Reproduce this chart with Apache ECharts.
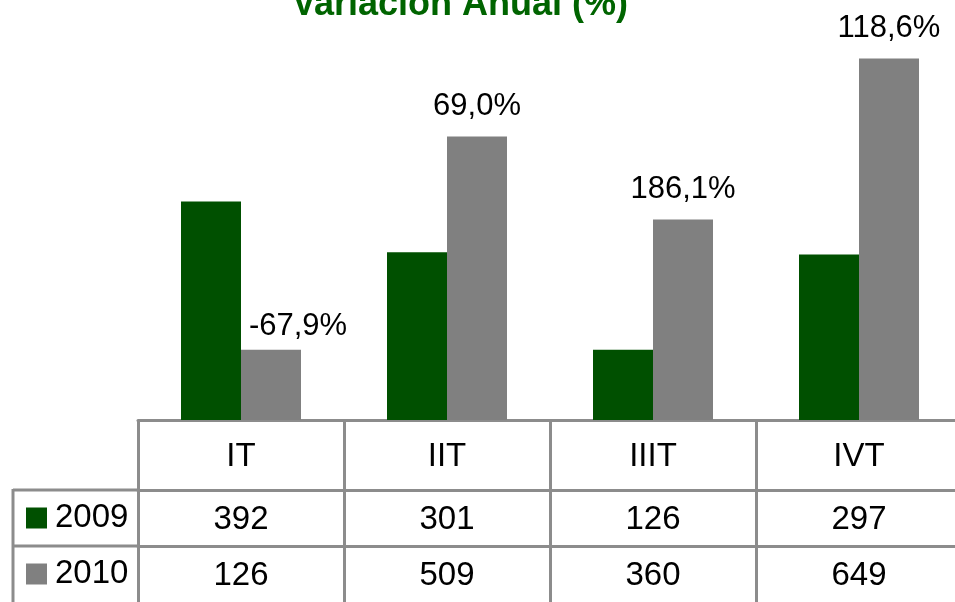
<!DOCTYPE html>
<html>
<head>
<meta charset="utf-8">
<script src="https://cdn.jsdelivr.net/npm/echarts@6/dist/echarts.min.js"></script>
<style>
  html, body { margin: 0; padding: 0; background: #fff; }
  #chart { width: 955px; height: 602px; }
</style>
</head>
<body>
<div id="chart"></div>
<script>
// quarters and yearly values
const quarters = ['IT', 'IIT', 'IIIT', 'IVT'];
const years = ['2009', '2010'];
const values2009 = [392, 301, 126, 297];
const values2010 = [126, 509, 360, 649];
const changeLabels = ['-67,9%', '69,0%', '186,1%', '118,6%'];

const GREEN = '#005000';
const GRAY = '#808080';
const LINE = '#8c8c8c';
const FONT = '"Liberation Sans", Arial, sans-serif';

const chart = echarts.init(document.getElementById('chart'));

// table row axes, one per year, hanging under the bars
function rowAxis(offset, vals) {
    return {
        type: 'category',
        data: quarters,
        gridIndex: 0,
        position: 'bottom',
        offset: offset,
        axisLine: { show: true, lineStyle: { color: LINE, width: 3 } },
        axisTick: { show: false },
        axisLabel: {
            formatter: (v, i) => String(vals[i]),
            fontSize: 33,
            fontFamily: FONT,
            color: '#000',
            margin: 30,
            verticalAlign: 'middle'
        }
    };
}

const option = {
    animation: false,
    title: {
        text: 'Variación Anual (%)',
        left: 287,
        top: -18,
        textStyle: { color: '#006400', fontSize: 36, fontWeight: 'bold', fontFamily: FONT }
    },
    legend: {
        data: years,
        orient: 'vertical',
        left: 26,
        top: 498,
        padding: 0,
        itemWidth: 21,
        itemHeight: 21,
        itemGap: 16,
        icon: 'rect',
        textStyle: { fontSize: 33, lineHeight: 34, color: '#000', fontFamily: FONT, padding: [6, 0, 0, 3] }
    },
    grid: { left: 138, top: 30, width: 824, height: 390, outerBoundsMode: 'none' },
    xAxis: [
        {
            type: 'category',
            data: quarters,
            position: 'bottom',
            axisLine: { show: true, lineStyle: { color: LINE, width: 3 } },
            axisTick: { show: true, length: 182, lineStyle: { color: LINE, width: 3 } },
            axisLabel: {
                fontSize: 33,
                fontFamily: FONT,
                color: '#000',
                margin: 37,
                verticalAlign: 'middle'
            }
        },
        rowAxis(70, values2009),
        rowAxis(126, values2010)
    ],
    yAxis: { type: 'value', min: 0, max: 700, show: false },
    graphic: [
        // legend column borders
        { type: 'line', shape: { x1: 13, y1: 490, x2: 138, y2: 490 }, style: { stroke: LINE, lineWidth: 3 } },
        { type: 'line', shape: { x1: 13, y1: 546, x2: 138, y2: 546 }, style: { stroke: LINE, lineWidth: 3 } },
        { type: 'line', shape: { x1: 13, y1: 489, x2: 13, y2: 602 }, style: { stroke: LINE, lineWidth: 3 } }
    ],
    series: [
        {
            name: '2009',
            type: 'bar',
            data: values2009,
            barWidth: 60,
            barGap: 0,
            itemStyle: { color: GREEN }
        },
        {
            name: '2010',
            type: 'bar',
            // first label sits off to the right of its bar
            data: values2010.map((v, i) => i === 0 ? { value: v, label: { offset: [27, 6] } } : v),
            barWidth: 60,
            itemStyle: { color: GRAY },
            label: {
                show: true,
                position: 'top',
                distance: 14,
                formatter: p => changeLabels[p.dataIndex],
                fontSize: 31,
                fontFamily: FONT,
                color: '#000'
            }
        }
    ]
};

chart.setOption(option);
</script>
</body>
</html>
